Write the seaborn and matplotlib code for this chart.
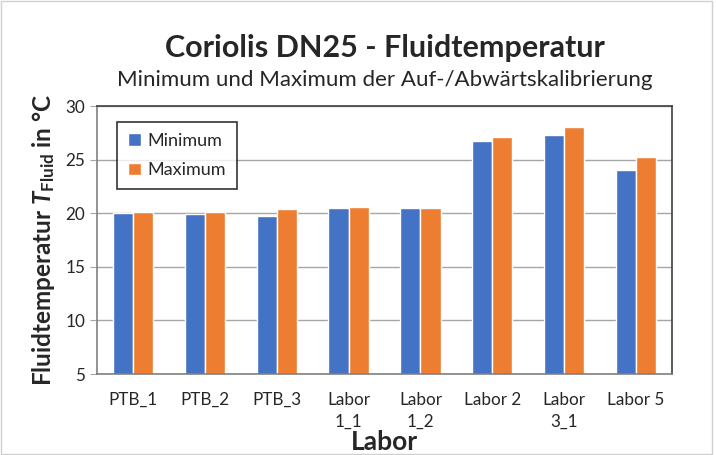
import numpy as np
import pandas as pd
import matplotlib.pyplot as plt
import seaborn as sns
from matplotlib.patches import Rectangle

labore = ["PTB_1", "PTB_2", "PTB_3", "Labor\n1_1", "Labor\n1_2", "Labor 2", "Labor\n3_1", "Labor 5"]
minimum = [20.0, 19.9, 19.7, 20.5, 20.5, 26.7, 27.3, 24.0]
maximum = [20.1, 20.15, 20.4, 20.55, 20.5, 27.1, 28.0, 25.25]

df = pd.DataFrame({
    "Labor": labore * 2,
    "Wert": minimum + maximum,
    "Serie": ["Minimum"] * len(labore) + ["Maximum"] * len(labore),
})

sns.set_style("white")
plt.rcParams["font.family"] = ["Lato", "DejaVu Sans"]
plt.rcParams["mathtext.fontset"] = "custom"
plt.rcParams["mathtext.it"] = "Lato:bold:italic"
plt.rcParams["mathtext.bf"] = "Lato:bold"
plt.rcParams["mathtext.rm"] = "Lato"

fig = plt.figure(figsize=(7.16, 4.55), dpi=100)
ax = fig.add_axes([0.1355, 0.178, 0.803, 0.589])

sns.barplot(data=df, x="Labor", y="Wert", hue="Serie",
            palette=["#4472C4", "#ED7D31"], width=0.56, ax=ax,
            saturation=1, errorbar=None)

ax.set_ylim(5, 30)
ax.set_yticks(range(5, 31, 5))
ax.set_xlim(-0.5, 7.5)
ax.yaxis.grid(True, color="#a6a6a6", linewidth=1)
ax.set_axisbelow(True)

ax.tick_params(axis="x", which="major", length=0, labelsize=12.3, pad=13)
for t in ax.get_xticklabels():
    t.set_linespacing(1.45)
ax.set_xticks(np.arange(-0.5, 8, 1), minor=True)
ax.tick_params(axis="x", which="minor", length=5, color="#a6a6a6", direction="out")
ax.tick_params(axis="y", length=5, color="#a6a6a6", labelsize=12.3, direction="out", left=True)

for s in ["left", "bottom"]:
    ax.spines[s].set_color("#808080")
    ax.spines[s].set_linewidth(1.2)
for s in ["top", "right"]:
    ax.spines[s].set_color("#404040")
    ax.spines[s].set_linewidth(1.2)

ax.set_xlabel("Labor", fontsize=19, fontweight="bold", labelpad=0)
ax.set_ylabel(r"Fluidtemperatur $\mathit{T}_{\mathbf{Fluid}}$ in °C",
              fontsize=17.5, fontweight="bold", labelpad=6)

leg = ax.legend(loc="upper left", bbox_to_anchor=(0.035, 0.94), borderaxespad=0,
                fontsize=13, frameon=True, fancybox=False, edgecolor="black",
                handlelength=0.7, handleheight=0.7, labelspacing=0.75,
                borderpad=0.6, handletextpad=0.4)
leg.get_frame().set_linewidth(1.2)

fig.text(0.538, 0.875, "Coriolis DN25 - Fluidtemperatur", ha="center",
         fontsize=22, fontweight="bold")
fig.text(0.538, 0.81, "Minimum und Maximum der Auf-/Abwärtskalibrierung",
         ha="center", fontsize=16)

fig.patches.append(Rectangle((0.002, 0.002), 0.993, 0.996, transform=fig.transFigure,
                             fill=False, edgecolor="#d0d0d0", linewidth=1))

fig.savefig("out.png", dpi=100)
